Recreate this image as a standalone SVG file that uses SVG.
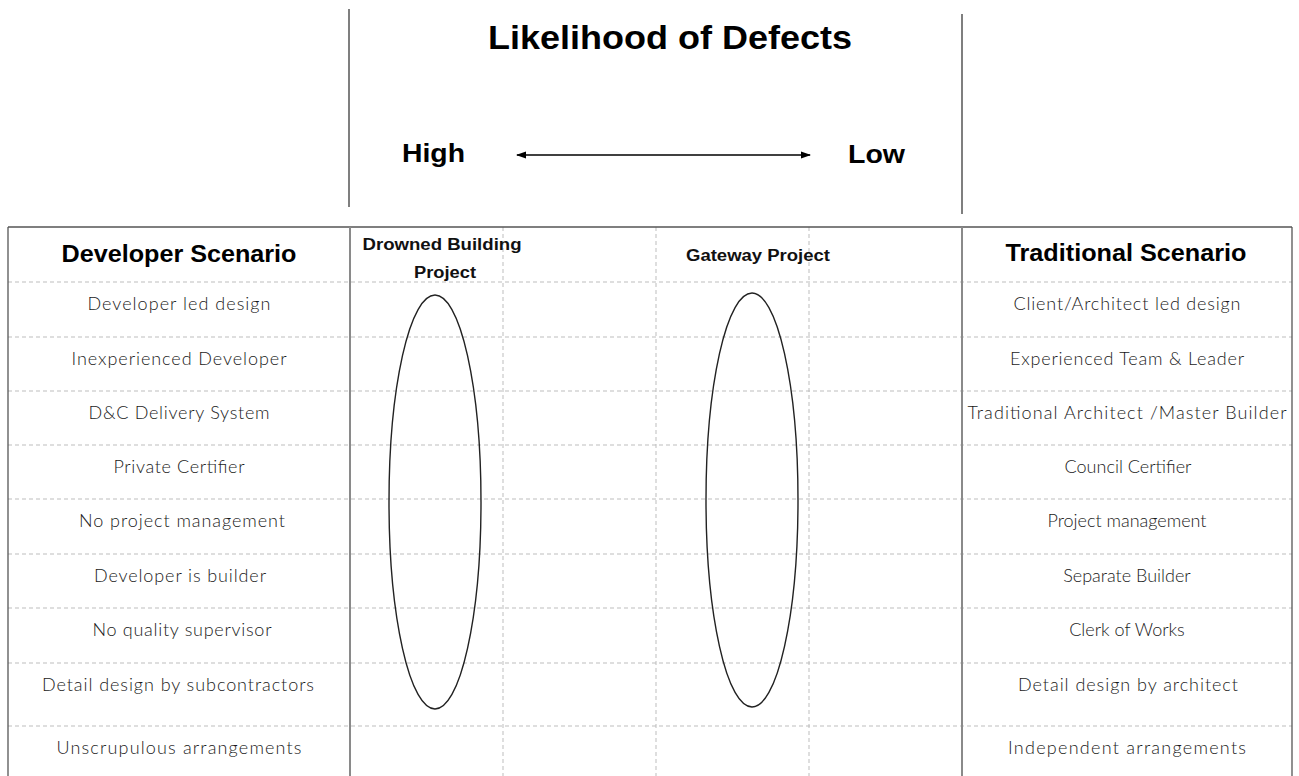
<svg xmlns="http://www.w3.org/2000/svg" width="1299" height="776" viewBox="0 0 1299 776">
  <defs>
    <style>
      .title { font-family: "Liberation Sans", Arial, sans-serif; font-weight: bold; fill: #000; }
      .hdr { font-family: "Liberation Sans", Arial, sans-serif; font-weight: bold; font-size: 24px; fill: #000; text-anchor: middle; }
      .sub { font-family: "Liberation Sans", Arial, sans-serif; font-weight: bold; font-size: 16px; fill: #111; text-anchor: middle; }
      .row { font-family: Lato, "Liberation Sans", sans-serif; font-weight: 300; font-size: 18px; fill: #1a1a1a; text-anchor: middle; }
      .dash { stroke: #bdbdbd; stroke-width: 1; stroke-dasharray: 4 3; fill: none; }
      .col { stroke: #8a8a8a; stroke-width: 2; fill: none; }
      .edge { stroke: #555; stroke-width: 1.3; fill: none; }
      .axis { stroke: #555; stroke-width: 1.5; fill: none; }
      .oval { stroke: #222; stroke-width: 1.4; fill: none; }
    </style>
    <marker id="ah" viewBox="0 0 10 10" refX="9" refY="5" markerWidth="10" markerHeight="8" orient="auto-start-reverse" markerUnits="userSpaceOnUse" preserveAspectRatio="none">
      <path d="M0,0.5 L10,5 L0,9.5 z" fill="#000"/>
    </marker>
  </defs>
  <rect width="1299" height="776" fill="#fff"/>

  <g id="header-frame">
    <line class="axis" x1="349" y1="9" x2="349" y2="207"/>
    <line class="axis" x1="962" y1="14" x2="962" y2="214"/>
    <text id="title" class="title" x="670" y="49" font-size="34" text-anchor="middle" textLength="364" lengthAdjust="spacingAndGlyphs">Likelihood of Defects</text>
  </g>
  <g id="high"><text class="title" x="402" y="162" font-size="26" textLength="63" lengthAdjust="spacingAndGlyphs">High</text></g>
  <g id="low"><text class="title" x="848" y="163" font-size="26" textLength="57" lengthAdjust="spacingAndGlyphs">Low</text></g>

  <g id="connectors">
    <line x1="517" y1="155" x2="810" y2="155" stroke="#000" stroke-width="1.3" marker-start="url(#ah)" marker-end="url(#ah)"/>
  </g>

  <g id="table-grid">
    <line class="dash" x1="8" y1="282" x2="1292" y2="282"/>
    <line class="dash" x1="8" y1="337" x2="1292" y2="337"/>
    <line class="dash" x1="8" y1="391" x2="1292" y2="391"/>
    <line class="dash" x1="8" y1="445" x2="1292" y2="445"/>
    <line class="dash" x1="8" y1="499" x2="1292" y2="499"/>
    <line class="dash" x1="8" y1="554" x2="1292" y2="554"/>
    <line class="dash" x1="8" y1="608" x2="1292" y2="608"/>
    <line class="dash" x1="8" y1="663" x2="1292" y2="663"/>
    <line class="dash" x1="8" y1="726" x2="1292" y2="726"/>
    <line class="dash" x1="503" y1="227" x2="503" y2="776"/>
    <line class="dash" x1="656" y1="227" x2="656" y2="776"/>
    <line class="dash" x1="809" y1="227" x2="809" y2="776"/>
    <line class="edge" x1="8" y1="227" x2="1292" y2="227"/>
    <line class="edge" x1="8" y1="227" x2="8" y2="776"/>
    <line class="edge" x1="1292" y1="227" x2="1292" y2="776"/>
    <line class="col" x1="350" y1="227" x2="350" y2="776"/>
    <line class="col" x1="962" y1="227" x2="962" y2="776"/>
  </g>

  <g id="developer-scenario">
    <text class="hdr" x="179" y="262" textLength="235" lengthAdjust="spacingAndGlyphs">Developer Scenario</text>
    <text class="row" x="179" y="310" textLength="183" lengthAdjust="spacing">Developer led design</text>
    <text class="row" x="179" y="365" textLength="215" lengthAdjust="spacing">Inexperienced Developer</text>
    <text class="row" x="179" y="419" textLength="181" lengthAdjust="spacing">D&amp;C Delivery System</text>
    <text class="row" x="179" y="473" textLength="131" lengthAdjust="spacing">Private Certifier</text>
    <text class="row" x="182" y="527" textLength="206" lengthAdjust="spacing">No project management</text>
    <text class="row" x="180" y="582" textLength="172" lengthAdjust="spacing">Developer is builder</text>
    <text class="row" x="182" y="636" textLength="179" lengthAdjust="spacing">No quality supervisor</text>
    <text class="row" x="178" y="691" textLength="272" lengthAdjust="spacing">Detail design by subcontractors</text>
    <text class="row" x="179" y="754" textLength="245" lengthAdjust="spacing">Unscrupulous arrangements</text>
  </g>

  <g id="traditional-scenario">
    <text class="hdr" x="1126" y="261" textLength="241" lengthAdjust="spacingAndGlyphs">Traditional Scenario</text>
    <text class="row" x="1127" y="310" textLength="227" lengthAdjust="spacing">Client/Architect led design</text>
    <text class="row" x="1127" y="365" textLength="234" lengthAdjust="spacing">Experienced Team &amp; Leader</text>
    <text class="row" x="1127" y="419" textLength="319" lengthAdjust="spacing">Traditional Architect /Master Builder</text>
    <text class="row" x="1128" y="473">Council Certifier</text>
    <text class="row" x="1127" y="527" textLength="159" lengthAdjust="spacing">Project management</text>
    <text class="row" x="1127" y="582">Separate Builder</text>
    <text class="row" x="1127" y="636">Clerk of Works</text>
    <text class="row" x="1128" y="691" textLength="220" lengthAdjust="spacing">Detail design by architect</text>
    <text class="row" x="1127" y="754" textLength="238" lengthAdjust="spacing">Independent arrangements</text>
  </g>

  <g id="drowned-building">
    <text class="sub" x="442" y="250" textLength="159" lengthAdjust="spacingAndGlyphs">Drowned Building</text>
    <text class="sub" x="445" y="278" textLength="62" lengthAdjust="spacingAndGlyphs">Project</text>
    <ellipse class="oval" cx="435" cy="502" rx="46" ry="207"/>
  </g>

  <g id="gateway-project">
    <text class="sub" x="758" y="261" textLength="144" lengthAdjust="spacingAndGlyphs">Gateway Project</text>
    <ellipse class="oval" cx="752" cy="500" rx="46" ry="207"/>
  </g>
</svg>
